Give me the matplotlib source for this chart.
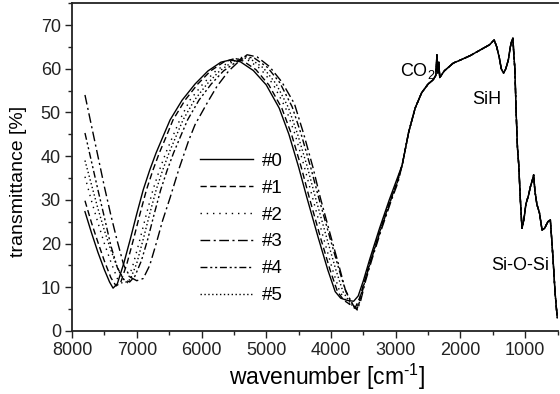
import numpy as np
import matplotlib
matplotlib.use('Agg')
import matplotlib.pyplot as plt
from matplotlib.ticker import MultipleLocator

plt.rcParams['font.family'] = ['Liberation Sans', 'DejaVu Sans']
plt.rcParams['mathtext.fontset'] = 'custom'
plt.rcParams['mathtext.rm'] = 'Liberation Sans'

# fringe part of each spectrum (8000 .. 3000 cm-1)
x0 = [7800, 7700, 7600, 7500, 7420, 7366, 7300, 7200, 7100, 7000, 6900, 6800, 6700, 6600, 6485, 6300, 6100,
      5900, 5700, 5558, 5400, 5200, 5000, 4800, 4650, 4500, 4372, 4200, 4050, 3935, 3850, 3750, 3650, 3580,
      3500, 3400, 3250, 3100, 3000]
y0 = [27.3, 22.5, 18.0, 14.0, 11.2, 9.8, 10.8, 15.5, 21.0, 26.8, 32.3, 36.8, 40.8, 44.3, 48.3, 52.8, 56.5,
      59.5, 61.5, 62.0, 61.6, 59.6, 56.3, 51.0, 45.0, 37.5, 30.5, 21.5, 14.0, 9.0, 7.5, 7.0, 6.8, 8.0,
      11.5, 16.5, 23.5, 30.0, 34.0]

x1 = [7800, 7700, 7600, 7500, 7400, 7320, 7250, 7150, 7050, 6950, 6850, 6750, 6650, 6550, 6440, 6255, 6058,
      5860, 5660, 5518, 5360, 5160, 4960, 4760, 4610, 4460, 4335, 4165, 4015, 3900, 3800, 3700, 3620, 3560,
      3480, 3380, 3230, 3080, 2980]
y1 = [29.8, 24.8, 20.3, 16.0, 12.2, 10.3, 11.0, 15.5, 21.0, 26.8, 32.3, 36.8, 40.8, 44.3, 48.3, 52.8, 56.5,
      59.5, 61.5, 62.2, 61.8, 59.8, 56.3, 51.0, 45.0, 37.5, 30.5, 21.5, 14.0, 9.0, 7.0, 6.0, 5.5, 7.5,
      11.5, 16.5, 23.5, 30.0, 34.0]

x2 = [7800, 7700, 7600, 7500, 7400, 7300, 7216, 7150, 7050, 6950, 6850, 6750, 6650, 6550, 6450, 6335, 6180,
      5980, 5780, 5580, 5440, 5285, 5090, 4895, 4700, 4555, 4410, 4285, 4120, 3975, 3865, 3780, 3690, 3615,
      3560, 3485, 3385, 3235, 3085, 2985]
y2 = [35.3, 29.8, 24.8, 20.0, 15.8, 12.0, 10.8, 11.0, 15.5, 21.0, 26.8, 32.3, 36.8, 40.8, 44.3, 48.3, 52.8,
      56.5, 59.5, 61.5, 62.4, 62.0, 60.0, 56.5, 51.0, 45.0, 37.5, 30.5, 21.5, 14.0, 9.0, 7.2, 5.8, 5.0,
      7.0, 11.5, 16.5, 23.5, 30.0, 34.0]

x3 = [7800, 7700, 7600, 7500, 7400, 7300, 7200, 7100, 7000, 6900, 6800, 6700, 6600, 6485, 6350, 6200, 6100,
      5900, 5760, 5580, 5400, 5295, 5140, 4950, 4760, 4565, 4420, 4280, 4165, 4000, 3860, 3780, 3700, 3640,
      3595, 3540, 3465, 3365, 3215, 3065, 2965]
y3 = [54.0, 47.0, 40.0, 33.0, 26.5, 20.5, 15.0, 12.3, 11.5, 12.0, 15.0, 20.0, 25.3, 30.5, 37.0, 43.5, 47.2,
      52.5, 56.0, 59.5, 62.0, 63.2, 62.7, 60.5, 57.0, 52.0, 45.0, 37.5, 30.5, 21.5, 14.0, 9.5, 7.0, 5.5,
      4.8, 7.0, 11.5, 16.5, 23.5, 30.0, 34.0]

x4 = [7800, 7700, 7600, 7500, 7400, 7300, 7200, 7110, 7030, 6930, 6830, 6730, 6630, 6530, 6430, 6330, 6215,
      6040, 5850, 5660, 5470, 5340, 5180, 4980, 4790, 4600, 4460, 4315, 4190, 4020, 3875, 3770, 3700, 3640,
      3600, 3550, 3475, 3375, 3225, 3075, 2975]
y4 = [45.3, 38.8, 32.3, 26.0, 19.5, 14.5, 11.8, 11.2, 12.5, 16.0, 21.0, 26.8, 32.3, 36.8, 40.8, 44.3, 48.3,
      52.8, 56.5, 59.5, 61.5, 62.8, 62.4, 60.3, 56.8, 51.3, 45.0, 37.5, 30.5, 21.5, 14.0, 9.0, 7.0, 5.5,
      5.0, 7.0, 11.5, 16.5, 23.5, 30.0, 34.0]

x5 = [7800, 7700, 7600, 7500, 7400, 7300, 7220, 7166, 7100, 7000, 6900, 6800, 6700, 6600, 6500, 6400, 6285,
      6110, 5915, 5720, 5530, 5395, 5240, 5045, 4850, 4660, 4515, 4365, 4240, 4070, 3925, 3815, 3730, 3660,
      3605, 3555, 3480, 3380, 3230, 3080, 2980]
y5 = [39.0, 33.5, 28.0, 23.0, 18.5, 14.5, 12.0, 11.2, 11.8, 15.5, 21.0, 26.8, 32.3, 36.8, 40.8, 44.3, 48.3,
      52.8, 56.5, 59.5, 61.5, 62.6, 62.2, 60.2, 56.6, 51.2, 45.0, 37.5, 30.5, 21.5, 14.0, 9.0, 7.0, 5.6,
      5.0, 7.0, 11.5, 16.5, 23.5, 30.0, 34.0]

# absorption part (below 3000 cm-1), the same for all samples
x_tail = [2900, 2800, 2700, 2600, 2500, 2420, 2380, 2364, 2350, 2335, 2320, 2250, 2111, 2000, 1850, 1694,
          1550, 1480, 1440, 1400, 1370, 1334, 1300, 1261, 1230, 1205, 1190, 1175, 1160, 1140, 1120, 1100,
          1075, 1050, 1020, 990, 950, 920, 890, 870, 850, 820, 780, 740, 700, 650, 612, 586, 560, 540,
          520, 505]
y_tail = [38.0, 45.5, 51.0, 54.5, 56.5, 57.5, 58.5, 63.2, 59.0, 61.5, 58.0, 59.5, 61.3, 62.0, 63.0, 64.3,
          65.5, 66.6, 65.0, 62.5, 60.0, 59.0, 60.0, 62.0, 65.0, 66.5, 67.0, 63.0, 60.0, 50.0, 42.0, 38.0,
          30.0, 23.5, 25.5, 29.0, 31.0, 33.0, 34.5, 35.7, 32.0, 29.0, 27.0, 23.1, 23.5, 25.0, 25.4, 20.0,
          14.0, 9.0, 5.5, 3.0]

labels = ['#0', '#1', '#2', '#3', '#4', '#5']
xs = [x0, x1, x2, x3, x4, x5]
ys = [y0, y1, y2, y3, y4, y5]
styles = ['-', (0, (4.5, 2.5)), (0, (1, 3.5)), (0, (7, 2.5, 1.5, 2.5)),
          (0, (5, 2, 1.5, 2, 1.5, 2)), (0, (1, 1.8))]

fig = plt.figure(figsize=(5.6, 3.94), dpi=100)
ax = fig.add_axes([0.1286, 0.16, 0.8671, 0.8319])

for x, y, ls, lab in zip(xs, ys, styles, labels):
    xx = np.array(x + x_tail)
    yy = np.array(y + y_tail)
    ax.plot(xx, yy, color='black', linestyle=ls, linewidth=1.0, label=lab)

ax.set_xlim(8000, 500)
ax.set_ylim(0, 75)
ax.xaxis.set_major_locator(MultipleLocator(1000))
ax.xaxis.set_minor_locator(MultipleLocator(500))
ax.yaxis.set_major_locator(MultipleLocator(10))
ax.yaxis.set_minor_locator(MultipleLocator(5))
ax.tick_params(which='both', direction='out', top=False, right=False, width=1.0, labelsize=13, colors='#222222')
ax.tick_params(which='major', length=5, pad=3)
ax.tick_params(which='minor', length=3)
ax.spines['right'].set_visible(False)
for s in ['left', 'bottom', 'top']:
    ax.spines[s].set_linewidth(1.3)
    ax.spines[s].set_color('#222222')

ax.set_xlabel('wavenumber [cm$^{\\text{-1}}$]', fontsize=16.5)
ax.set_ylabel('transmittance [%]', fontsize=14)
ax.xaxis.set_label_coords(0.525, -0.095)
ax.yaxis.set_label_coords(-0.093, 0.455)

ax.text(2940, 59.5, 'CO$_2$', fontsize=13, ha='left', va='center')
ax.text(1822, 52.9, 'SiH', fontsize=13, ha='left', va='center')
ax.text(1529, 14.9, 'Si-O-Si', fontsize=13, ha='left', va='center')

ax.legend(loc='center left', bbox_to_anchor=(0.2636, 0.3127), frameon=False, fontsize=13.5,
          handlelength=2.8, handletextpad=0.5, labelspacing=0.52, borderpad=0, borderaxespad=0)

plt.savefig('out.png', dpi=100)
